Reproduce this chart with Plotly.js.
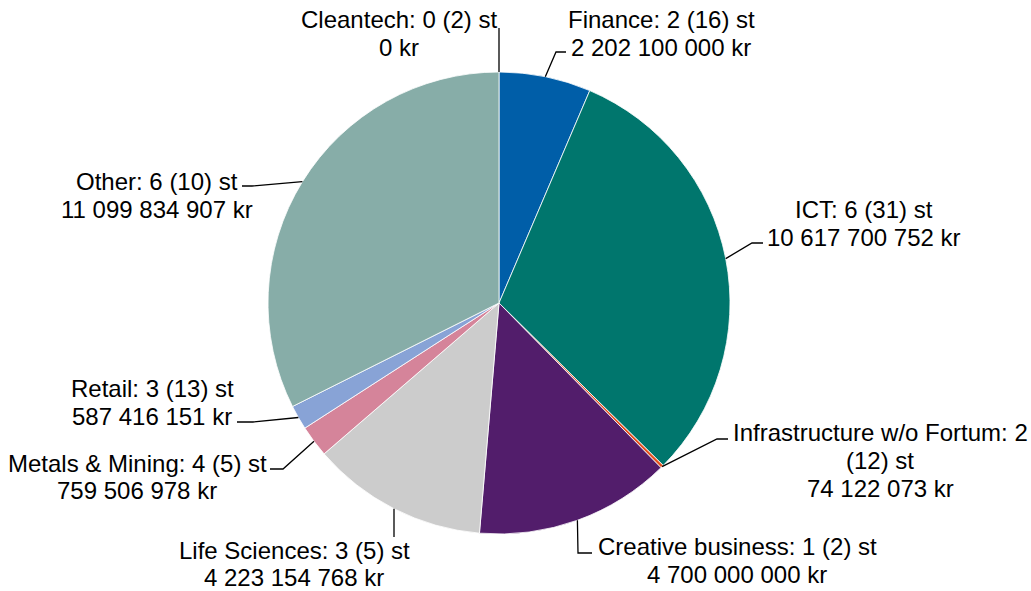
<!DOCTYPE html>
<html>
<head>
<meta charset="utf-8">
<script src="https://cdn.plot.ly/plotly-3.0.1.min.js"></script>
<style>html,body{margin:0;padding:0;background:#fff;}#chart{width:1031px;height:591px;}</style>
</head>
<body>
<div id="chart"></div>
<script>
// ---- data ----
const categories = ['Cleantech', 'Finance', 'ICT', 'Infrastructure w/o Fortum', 'Creative business', 'Life Sciences', 'Metals & Mining', 'Retail', 'Other'];
const deals = [0, 2, 6, 2, 1, 3, 4, 3, 6];
const dealsTotal = [2, 16, 31, 12, 2, 5, 5, 13, 10];
const amountsKr = [0, 2202100000, 10617700752, 74122073, 4700000000, 4223154768, 759506978, 587416151, 11099834907];

// ---- style / layout ----
const colors = ['#6AA84F', '#005EA8', '#00766D', '#E4501E', '#521D6B', '#CCCCCC', '#D5849A', '#88A3D6', '#87ADA8'];
const W = 1031, H = 591;
const CX = 499, CY = 303, R = 231;
const FONT = {family: 'Liberation Sans, Arial, sans-serif', size: 24, color: '#000000'};
// label placement: first line centre (x, y), line spacing, elbow points from slice tip outward
const labelPos = [
  {x: 399, y: 19, dy: 28, path: [[499, 28]]},
  {x: 661, y: 19, dy: 28, path: [[556, 52], [566, 52]]},
  {x: 864, y: 209, dy: 28, path: [[752, 243], [763, 243]]},
  {x: 880, y: 432, dy: 28, path: [[717, 439], [728, 439]]},
  {x: 737, y: 546, dy: 28, path: [[578, 553], [592, 553]]},
  {x: 294, y: 550, dy: 27, path: [[394, 537]]},
  {x: 137, y: 463, dy: 27, path: [[283, 469], [270, 469]]},
  {x: 152, y: 388, dy: 28, path: [[253, 422], [237, 422]]},
  {x: 157, y: 181, dy: 28, path: [[252, 186], [242, 186]]}
];

function fmt(n) {
  return String(n).replace(/\B(?=(\d{3})+(?!\d))/g, ' ');
}
function esc(s) { return s.replace(/&/g, '&amp;'); }
function wrap(s, maxChars) {
  if (s.length <= maxChars) return [s];
  let cut = s.lastIndexOf(' ', maxChars);
  return [s.slice(0, cut), s.slice(cut + 1)];
}

const total = amountsKr.reduce((a, b) => a + b, 0);
const annotations = [];
const shapes = [];
let cum = 0;
categories.forEach((c, i) => {
  const frac = amountsKr[i] / total;
  const mid = (cum + frac / 2) * 2 * Math.PI;
  cum += frac;
  const tip = [CX + R * Math.sin(mid), CY - R * Math.cos(mid)];
  const lp = labelPos[i];
  const pts = [tip].concat(lp.path);
  shapes.push({
    type: 'path', xref: 'x', yref: 'y',
    path: pts.map((p, k) => (k ? 'L' : 'M') + p[0].toFixed(1) + ',' + p[1].toFixed(1)).join(' '),
    line: {color: '#000000', width: 1.3}
  });
  const lines = wrap(c + ': ' + deals[i] + ' (' + dealsTotal[i] + ') st', 29).concat([fmt(amountsKr[i]) + ' kr']);
  lines.forEach((t, k) => {
    annotations.push({
      xref: 'x', yref: 'y', x: lp.x, y: lp.y + k * lp.dy,
      text: esc(t), showarrow: false, xanchor: 'center', yanchor: 'middle',
      font: FONT, borderpad: 0
    });
  });
});

const trace = {
  type: 'pie',
  labels: categories,
  values: amountsKr,
  sort: false,
  direction: 'clockwise',
  rotation: 0,
  textinfo: 'none',
  hoverinfo: 'label+value',
  marker: {colors: colors, line: {color: '#FFFFFF', width: 0.8}},
  domain: {x: [(CX - R) / W, (CX + R) / W], y: [(H - CY - R) / H, (H - CY + R) / H]},
  showlegend: false
};

const layout = {
  width: W, height: H,
  margin: {l: 0, r: 0, t: 0, b: 0},
  paper_bgcolor: '#FFFFFF', plot_bgcolor: 'rgba(0,0,0,0)',
  xaxis: {range: [0, W], visible: false, fixedrange: true},
  yaxis: {range: [H, 0], visible: false, fixedrange: true},
  showlegend: false,
  shapes: shapes,
  annotations: annotations,
  font: FONT
};

Plotly.newPlot('chart', [trace], layout, {displayModeBar: false, staticPlot: true});
</script>
</body>
</html>
